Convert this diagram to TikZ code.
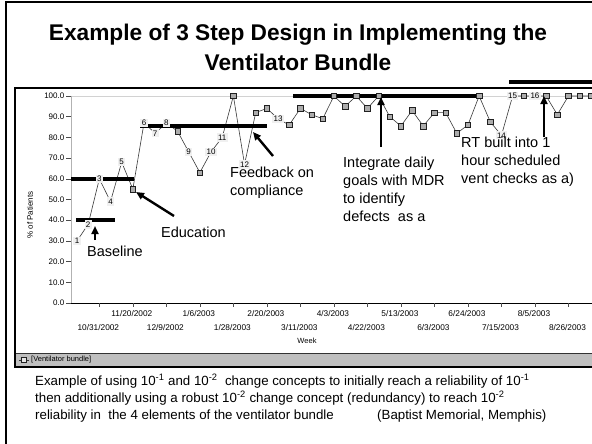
\documentclass[tikz,border=0pt]{standalone}
\usepackage{fontspec}
\setmainfont{Liberation Sans}
\usetikzlibrary{arrows.meta}
\begin{document}
\begin{tikzpicture}[x=1pt,y=-1pt,
  ann/.style={font=\fontsize{14.5}{18}\selectfont, align=left, inner sep=0pt, anchor=north west},
  small/.style={font=\fontsize{8}{9}\selectfont, inner sep=0pt},
  dataline/.style={draw=gray!45!black, line width=0.6pt},
  sq/.style={draw=gray!25!black, fill=gray!65, line width=0.5pt, minimum size=5.5pt, inner sep=0pt},
  ptlabel/.style={fill=gray!12, font=\fontsize{8}{9}\selectfont, inner sep=1.4pt},
  stepbar/.style={line width=3.5pt},
  bigarrow/.style={line width=2.4pt, -{Triangle[length=8pt,width=7pt]}},
  ytick/.style={draw=gray!60!black, line width=0.5pt},
  captxt/.style={font=\fontsize{13.3}{17}\selectfont, inner sep=0pt}]
\useasboundingbox (0,0) rectangle (592,444);
\clip (0,0) rectangle (592,444);
\fill[white] (0,0) rectangle (592,444);
% slide frame
\draw[line width=2pt] (6,2) rectangle (600,450);
% title
\node[font=\fontsize{22.7}{30}\bfseries, align=center, inner sep=0pt] (title) at (298,47)
  {Example of 3 Step Design in Implementing the\\Ventilator Bundle};
% chart window
\draw[line width=1.2pt] (15,88) rectangle (600,367);
\fill[gray!50] (15.6,353) rectangle (600,366.4);
\draw[gray!40!black, line width=0.6pt] (15.6,353) -- (600,353);
% legend
\draw[gray!40!black, line width=0.5pt] (19,360) -- (29,360);
\node[sq, fill=gray!20, minimum size=5pt] (legsq) at (24,360) {};
\node[small, anchor=west, font=\fontsize{7.5}{9}\selectfont] (legend) at (31,360) {[Ventilator bundle]};
% axes
\draw[gray!35, line width=0.8pt] (71,96) -- (600,96);
\draw[gray!60, line width=0.8pt] (71,96) -- (71,303);
\draw[black, line width=0.7pt] (71,303) -- (600,303);
\foreach \v in {0,10,...,100}{
  \draw[ytick] (66,{303-2.07*\v}) -- (71,{303-2.07*\v});
  \node[small, anchor=east] (yl\v) at (64.5,{303-2.07*\v}) {\v.0};
}
\node[small, rotate=90] (ylabel) at (30,215) {\% of Patients};
% x ticks and labels
\foreach \i/\d/\r in {0/10\slash31\slash2002/1,1/11\slash20\slash2002/0,2/12\slash9\slash2002/1,3/1\slash6\slash2003/0,4/1\slash28\slash2003/1,5/2\slash20\slash2003/0,6/3\slash11\slash2003/1,7/4\slash3\slash2003/0,8/4\slash22\slash2003/1,9/5\slash13\slash2003/0,10/6\slash3\slash2003/1,11/6\slash24\slash2003/0,12/7\slash15\slash2003/1,13/8\slash5\slash2003/0,14/8\slash26\slash2003/1}{
  \draw[ytick] ({77+11.17*(2+3*\i)},303) -- ({77+11.17*(2+3*\i)},307);
  \node[small, font=\fontsize{8.3}{9}\selectfont] (xl\i) at ({77+11.17*(2+3*\i)-1},{313.5+14*\r}) {\d};
}
\node[small, font=\fontsize{7.5}{9}\selectfont] (week) at (307,341) {Week};
% data points
\foreach \k/\v in {0/30,1/38,2/60,3/49,4/68,5/55,6/87,7/82,8/87,9/83,10/73,11/63,12/73,13/80,14/100,15/67,16/92,17/94,18/89,19/86,20/94,21/91,22/89,23/100,24/95,25/100,26/94,27/100,28/90,29/85.5,30/93,31/85.5,32/92,33/92,34/82,35/86,36/100,37/87.5,38/81,39/100,40/100,41/100,42/100,43/91,44/100,45/100,46/100}{
  \coordinate (p\k) at ({77+11.17*\k},{303-2.07*\v});
}
\draw[dataline] (p0) \foreach \k in {1,...,46}{ -- (p\k)};
% step levels
\draw[stepbar] (76,220) -- (115,220);
\draw[stepbar] (71,179) -- (134,179);
\draw[stepbar] (140,126) -- (267,126);
\draw[stepbar] (293,96) -- (482,96);
\draw[stepbar] (509,82) -- (600,82);
% squares
\foreach \k in {5,9,11,14,16,17,19,20,21,22,23,24,25,26,27,28,29,30,31,32,33,34,35,36,37,40,42,43,44,45,46}{
  \node[sq] (s\k) at (p\k) {};
}
% labelled points
\foreach \k/\n in {0/1,1/2,2/3,3/4,4/5,6/6,7/7,8/8,10/9,12/10,13/11,15/12,18/13,38/14,39/15,41/16}{
  \node[ptlabel] (l\n) at (p\k) {\n};
}
% annotations
\node[ann] (baseline) at (87,246) {Baseline};
\node[ann] (education) at (161,227) {Education};
\node[ann] (feedback) at (230,167) {Feedback on\\compliance};
\node[ann] (integrate) at (343,157) {Integrate daily\\goals with MDR\\to identify\\defects\ \ as a};
\node[ann] (rt) at (461,137) {RT built into 1\\hour scheduled\\vent checks as a)};
% arrows
\coordinate (a1s) at (95,240); \coordinate (a1e) at (95,226);
\coordinate (a2s) at (174,216); \coordinate (a2e) at (136,192);
\coordinate (a3s) at (273,156); \coordinate (a3e) at (253,132);
\coordinate (a4s) at (381,147); \coordinate (a4e) at (381,97);
\coordinate (a5s) at (544,137); \coordinate (a5e) at (544,96);
\draw[bigarrow] (a1s) -- (a1e);
\draw[bigarrow] (a2s) -- (a2e);
\draw[bigarrow] (a3s) -- (a3e);
\draw[bigarrow] (a4s) -- (a4e);
\draw[bigarrow] (a5s) -- (a5e);
% caption
\node[captxt, align=left, anchor=north west] (caption) at (35,374)
  {Example of using 10\textsuperscript{-1} and 10\textsuperscript{-2}\ \ change concepts to initially reach a reliability of 10\textsuperscript{-1}\\
   then additionally using a robust 10\textsuperscript{-2} change concept (redundancy) to reach 10\textsuperscript{-2}\\
   reliability in\ \ the 4 elements of the ventilator bundle};
\node[captxt, anchor=base west] (source) at (377,419) {(Baptist Memorial, Memphis)};
\end{tikzpicture}
\end{document}
